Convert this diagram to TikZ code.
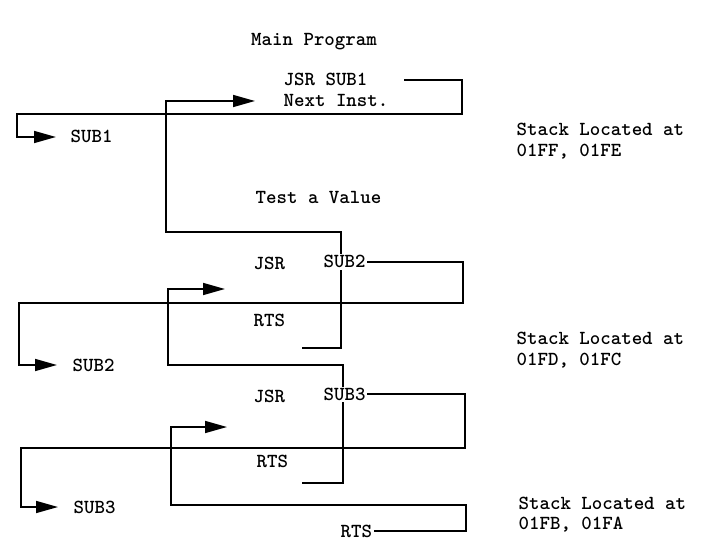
\documentclass[tikz,border=0pt]{standalone}
\usepackage{tikz}
\usetikzlibrary{arrows.meta,calc,backgrounds}
\newcommand{\codefont}{\fontsize{20}{24}\selectfont\ttfamily\bfseries}

\begin{document}
\begin{tikzpicture}[
  x=1bp, y=-1bp,
  lbl/.style={font=\codefont, anchor=west, inner sep=1.5bp,
              text height=12bp, text depth=0bp, fill=white},
  wire/.style={line width=1.7bp},
  arr/.style={wire, -{Triangle[length=22bp, width=12bp]}}
]
  \useasboundingbox (0,0) rectangle (701,542);

  \node[lbl, anchor=center] (title) at (314,40) {Main Program};

  % Main program
  \node[lbl] (jsr1) at (282,80) {JSR SUB1};
  \node[lbl] (next) at (282,101) {Next Inst.};

  % SUB1
  \node[lbl] (sub1) at (69,137) {SUB1};
  \node[lbl] (test) at (254,198) {Test a Value};
  \node[lbl] (jsr2) at (252,264) {JSR};
  \node[lbl] (call2) at (322,262) {SUB2};
  \node[lbl] (rts1) at (252,320) {RTS};

  % SUB2
  \node[lbl] (sub2) at (71,365) {SUB2};
  \node[lbl] (jsr3) at (252,396) {JSR};
  \node[lbl] (call3) at (322,394) {SUB3};
  \node[lbl] (rts2) at (255,461) {RTS};

  % SUB3
  \node[lbl] (sub3) at (72,507) {SUB3};
  \node[lbl] (rts3) at (339,531) {RTS};

  % stack notes
  \node[lbl] (stack1) at (515,130) {Stack Located at};
  \node[lbl] (addr1) at (515,151) {01FF, 01FE};
  \node[lbl] (stack2) at (515,338) {Stack Located at};
  \node[lbl] (addr2) at (515,359) {01FD, 01FC};
  \node[lbl] (stack3) at (517,503) {Stack Located at};
  \node[lbl] (addr3) at (517,523) {01FB, 01FA};

  \coordinate (ret1) at (302,348);
  \coordinate (ret2) at (302,483);
  \coordinate (back2) at (225,289);
  \coordinate (back3) at (227,427);

  \begin{scope}[on background layer]
    % calls
    \draw[arr] ($(jsr1.east)+(35,0)$) -| (462,114) -- (17,114)
      |- ($(sub1.west)+(-13,0)$);
    \draw[arr] (call2.east) -| (463,303) -- (19,303)
      |- ($(sub2.west)+(-14,0)$);
    \draw[arr] (call3.east) -| (465,448) -- (21,448)
      |- ($(sub3.west)+(-14,0)$);
    % returns
    \draw[arr] (ret1) -| (341,232) -- (166,232) |- ($(next.west)+(-27,0)$);
    \draw[arr] (ret2) -| (343,365) -- (168,365) |- (back2);
    \draw[arr] (rts3.east) -| (466,505) -- (171,505) |- (back3);
  \end{scope}
\end{tikzpicture}
\end{document}
